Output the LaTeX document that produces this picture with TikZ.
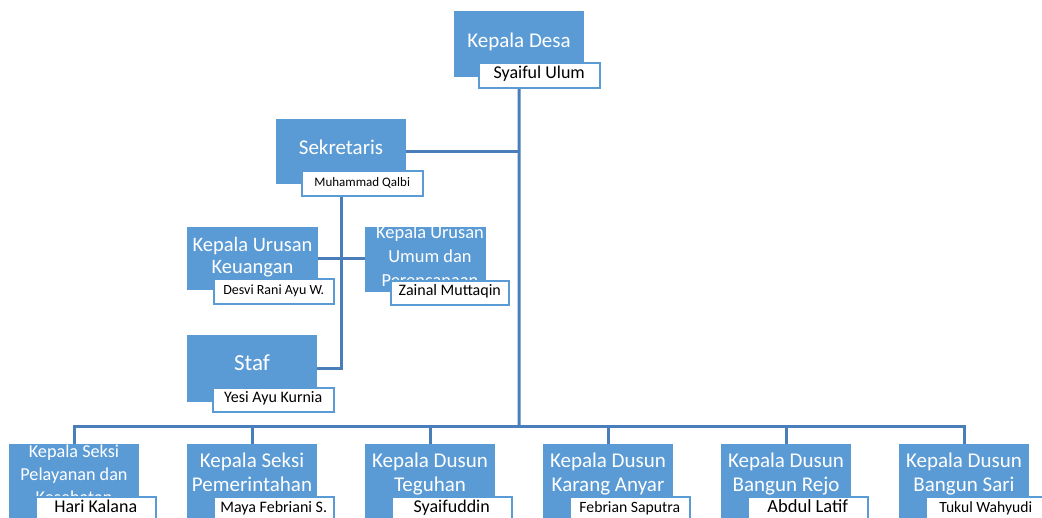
\documentclass[tikz,border=0pt]{standalone}
\usepackage{fontspec}
\setmainfont{Carlito}
\definecolor{boxblue}{HTML}{5B9BD5}
\definecolor{linecol}{HTML}{4A7EBB}
\pgfdeclarelayer{bg}
\pgfsetlayers{bg,main}
\newcommand\fsz[2]{\fontsize{#1}{#2}\selectfont}
\tikzset{
  unitbox/.style={fill=boxblue, draw=none, anchor=north west, minimum width=130, minimum height=66, inner sep=0},
  ttl/.style={text=white, align=center, anchor=base, inner sep=0},
  namebox/.style={fill=white, draw=boxblue, line width=1.5, anchor=north west, minimum width=120, minimum height=25, inner sep=0, text height=0.75em, text depth=0.15em},
  conn/.style={draw=linecol, line width=3}
}
\begin{document}
\begin{tikzpicture}[x=1pt,y=-1pt]
\useasboundingbox (0,0) rectangle (1042,517);
% Kepala Desa
\node[unitbox, minimum height=66] (kd) at (454,11) {};
\node[ttl, font=\fsz{21}{24}] (kdt) at (519,47) {Kepala Desa};
\node[namebox, minimum width=121, font=\fsz{18}{20}] (kdn) at (478,62) {Syaiful Ulum};
% Sekretaris
\node[unitbox, minimum height=65] (sek) at (276,119) {};
\node[ttl, font=\fsz{21}{24}] (sekt) at (341,154) {Sekretaris};
\node[namebox, minimum width=121, font=\fsz{13}{15}] (sekn) at (301,170) {Muhammad Qalbi};
% Keuangan
\node[unitbox, minimum width=131, minimum height=63] (keu) at (187,227) {};
\node[ttl, font=\fsz{20.5}{22}] (keut) at (252.5,273) {Kepala Urusan\\Keuangan};
\node[namebox, font=\fsz{14}{16}] (keun) at (213,278) {Desvi Rani Ayu W.};
% Umum
\node[unitbox, minimum width=121, minimum height=65] (umum) at (365,227) {};
\node[ttl, font=\fsz{18.4}{24}] (umumt) at (430,286) {Kepala Urusan\\Umum dan\\Perencanaan};
\node[namebox, minimum width=118, minimum height=24, font=\fsz{16}{18}] (umumn) at (390,280) {Zainal Muttaqin};
% Staf
\node[unitbox, minimum height=67] (staf) at (187,335) {};
\node[ttl, font=\fsz{23}{26}] (staft) at (252,370) {Staf};
\node[namebox, minimum width=121, minimum height=24, font=\fsz{16}{18}] (stafn) at (212,387) {Yesi Ayu Kurnia};
% Bottom row
\node[unitbox, minimum height=90] (b1) at (9,444) {};
\node[unitbox, minimum height=90] (b2) at (187,444) {};
\node[unitbox, minimum height=90] (b3) at (365,444) {};
\node[unitbox, minimum height=90] (b4) at (543,444) {};
\node[unitbox, minimum height=90] (b5) at (721,444) {};
\node[unitbox, minimum height=90] (b6) at (899,444) {};
\node[ttl, font=\fsz{18.2}{23}] (b1t) at (74,503) {Kepala Seksi\\Pelayanan dan\\Kesehatan};
\node[ttl, font=\fsz{21}{24}] (b2t) at (252,491) {Kepala Seksi\\Pemerintahan};
\node[ttl, font=\fsz{21}{24}] (b3t) at (430,491) {Kepala Dusun\\Teguhan};
\node[ttl, font=\fsz{21}{24}] (b4t) at (608,491) {Kepala Dusun\\Karang Anyar};
\node[ttl, font=\fsz{21}{24}] (b5t) at (786,491) {Kepala Dusun\\Bangun Rejo};
\node[ttl, font=\fsz{21}{24}] (b6t) at (964,491) {Kepala Dusun\\Bangun Sari};
\node[namebox, minimum height=26, font=\fsz{18}{20}] (b1n) at (35,496) {Hari Kalana};
\node[namebox, minimum height=26, font=\fsz{16}{18}] (b2n) at (213,496) {Maya Febriani S.};
\node[namebox, minimum height=26, font=\fsz{18}{20}] (b3n) at (391,496) {Syaifuddin};
\node[namebox, minimum height=26, font=\fsz{15.7}{18}] (b4n) at (569,496) {Febrian Saputra};
\node[namebox, minimum height=26, font=\fsz{18.5}{20}] (b5n) at (747,496) {Abdul Latif};
\node[namebox, minimum height=26, font=\fsz{15.6}{18}] (b6n) at (925,496) {Tukul Wahyudi};
% connectors
\coordinate (bus) at (519,426);
\begin{pgfonlayer}{bg}
\draw[conn] (kd.south) -- (bus);
\draw[conn] (sek.east) -- (sek.east -| kd.south);
\draw[conn] (sek.south) -- (sek.south |- staf.east) -- (staf.east);
\draw[conn] (keu.east) -- (keu.east -| umum.west);
\draw[conn] (b1.north) -- (b1.north |- bus) -- (b6.north |- bus) -- (b6.north);
\foreach \b in {b2,b3,b4,b5} \draw[conn] (\b.north) -- (\b.north |- bus);
\end{pgfonlayer}
\end{tikzpicture}
\end{document}
